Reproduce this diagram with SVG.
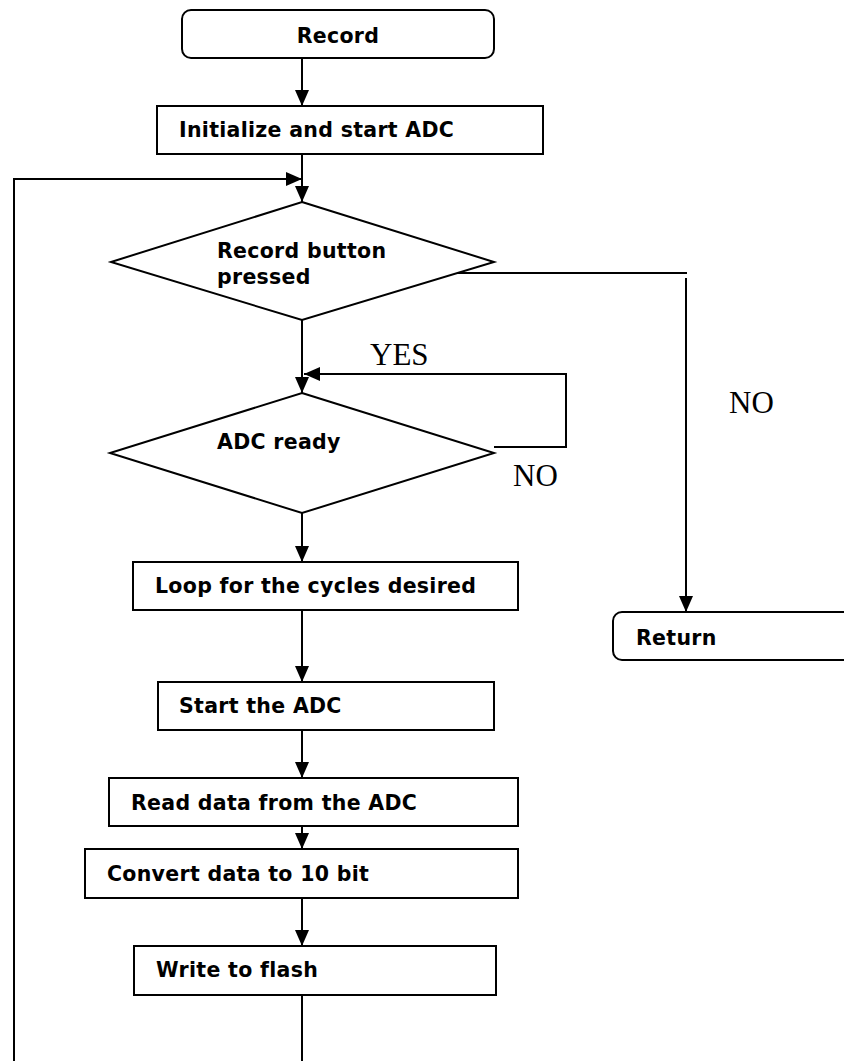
<svg xmlns="http://www.w3.org/2000/svg" width="844" height="1061" viewBox="0 0 844 1061">
  <style>
    .box { fill: #fff; stroke: #000; stroke-width: 2; }
    .lbl { font-family: "DejaVu Sans", Verdana, sans-serif; font-weight: bold; font-size: 20.5px; letter-spacing: 0.3px; fill: #000; }
    .cond { font-family: "Liberation Serif", "Times New Roman", serif; font-size: 31px; fill: #000; }
    .wire { fill: none; stroke: #000; stroke-width: 2; }
  </style>
  <defs>
    <marker id="arrow" viewBox="0 0 16 14" refX="16" refY="7" markerWidth="16" markerHeight="14" markerUnits="userSpaceOnUse" orient="auto">
      <path d="M0,0 L16,7 L0,14 Z" fill="#000"/>
    </marker>
  </defs>
  <rect width="844" height="1061" fill="#fff"/>

  <!-- connectors -->
  <g id="connectors">
    <line class="wire" x1="302" y1="58" x2="302" y2="106" marker-end="url(#arrow)"/>
    <line class="wire" x1="302" y1="154" x2="302" y2="202" marker-end="url(#arrow)"/>
    <polyline class="wire" points="14,1061 14,179 302,179" marker-end="url(#arrow)"/>
    <line class="wire" x1="302" y1="320" x2="302" y2="393" marker-end="url(#arrow)"/>
    <polyline class="wire" points="494,447 566,447 566,374 304,374" marker-end="url(#arrow)"/>
    <polyline class="wire" points="446,273 687,273"/>
    <line class="wire" x1="686" y1="278" x2="686" y2="612" marker-end="url(#arrow)"/>
    <line class="wire" x1="302" y1="513" x2="302" y2="562" marker-end="url(#arrow)"/>
    <line class="wire" x1="302" y1="610" x2="302" y2="682" marker-end="url(#arrow)"/>
    <line class="wire" x1="302" y1="730" x2="302" y2="778" marker-end="url(#arrow)"/>
    <line class="wire" x1="302" y1="826" x2="302" y2="849" marker-end="url(#arrow)"/>
    <line class="wire" x1="302" y1="898" x2="302" y2="946" marker-end="url(#arrow)"/>
    <line class="wire" x1="302" y1="995" x2="302" y2="1061"/>
    <text class="cond" x="370" y="365">YES</text>
    <text class="cond" x="513" y="486">NO</text>
    <text class="cond" x="729" y="413">NO</text>
  </g>

  <g id="record">
    <rect class="box" x="182" y="10" width="312" height="48" rx="9"/>
    <text class="lbl" x="338" y="43" text-anchor="middle">Record</text>
  </g>

  <g id="init-adc">
    <rect class="box" x="157" y="106" width="386" height="48"/>
    <text class="lbl" x="179" y="137">Initialize and start ADC</text>
  </g>

  <g id="button-pressed">
    <polygon class="box" points="302,202 494,262 302,320 111,262"/>
    <text class="lbl" x="217" y="258">Record button</text>
    <text class="lbl" x="217" y="284">pressed</text>
  </g>

  <g id="adc-ready">
    <polygon class="box" points="302,393 494,453 302,513 110,453"/>
    <text class="lbl" x="217" y="449">ADC ready</text>
  </g>

  <g id="loop-cycles">
    <rect class="box" x="133" y="562" width="385" height="48"/>
    <text class="lbl" x="155" y="593">Loop for the cycles desired</text>
  </g>

  <g id="return">
    <rect class="box" x="613" y="612" width="250" height="48" rx="9"/>
    <text class="lbl" x="636" y="645">Return</text>
  </g>

  <g id="start-adc">
    <rect class="box" x="158" y="682" width="336" height="48"/>
    <text class="lbl" x="179" y="713">Start the ADC</text>
  </g>

  <g id="read-data">
    <rect class="box" x="109" y="778" width="409" height="48"/>
    <text class="lbl" x="131" y="810">Read data from the ADC</text>
  </g>

  <g id="convert-data">
    <rect class="box" x="85" y="849" width="433" height="49"/>
    <text class="lbl" x="107" y="881">Convert data to 10 bit</text>
  </g>

  <g id="write-flash">
    <rect class="box" x="134" y="946" width="362" height="49"/>
    <text class="lbl" x="156" y="977">Write to flash</text>
  </g>
</svg>
